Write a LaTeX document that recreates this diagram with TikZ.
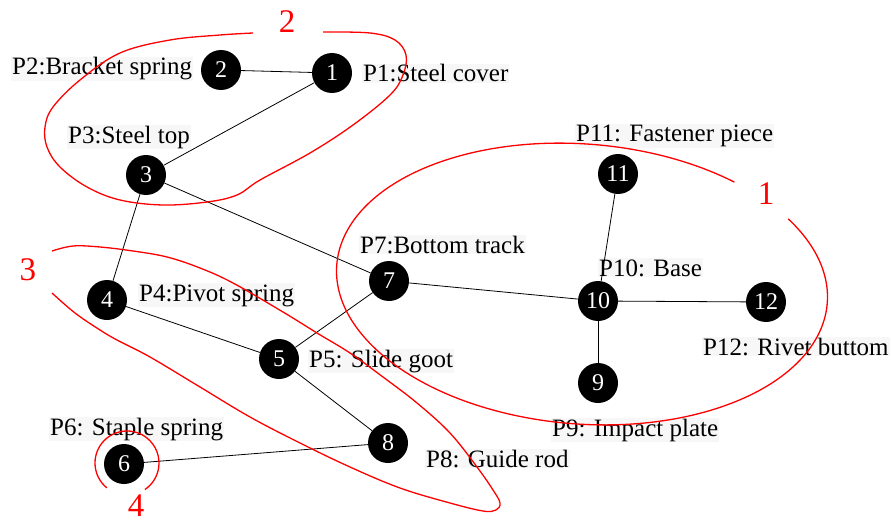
\documentclass[tikz,border=0pt]{standalone}
\usepackage{fontspec}
\setmainfont{Liberation Serif}
\begin{document}
\begin{tikzpicture}[x=1pt,y=-1pt,
  part/.style={circle, fill=black, minimum size=40pt, inner sep=0pt, text=white,
    font=\fontsize{24}{24}\selectfont},
  plabel/.style={anchor=base west, inner sep=1pt, fill=black!3,
    font=\fontsize{25}{25}\selectfont},
  link/.style={draw=black, line width=0.8pt},
  cluster/.style={draw=red, line width=1.3pt},
  groupno/.style={text=red, inner sep=0pt, font=\fontsize{33}{33}\selectfont}]
\useasboundingbox (0,0) rectangle (891,524);

% part labels
\node[plabel] (l1) at (362,82) {P1:Steel cover};
\node[plabel] (l2) at (11,75) {P2:Bracket spring};
\node[plabel] (l3) at (67,143) {P3:Steel top};
\node[plabel] (l4) at (138,301) {P4:Pivot spring};
\node[plabel] (l5) at (308,367) {P5: Slide goot};
\node[plabel] (l6) at (49,435) {P6: Staple spring};
\node[plabel] (l7) at (359,253) {P7:Bottom track};
\node[plabel] (l8) at (425,467) {P8: Guide rod};
\node[plabel] (l9) at (551,436) {P9: Impact plate};
\node[plabel] (l10) at (598,276) {P10: Base};
\node[plabel] (l11) at (575,142) {P11: Fastener piece};
\node[plabel] (l12) at (702,355) {P12: Rivet buttom};

% parts
\node[part] (n1) at (332,73) {1};
\node[part] (n2) at (221,70) {2};
\node[part] (n3) at (146,175) {3};
\node[part] (n4) at (107,300) {4};
\node[part] (n5) at (279,359) {5};
\node[part] (n6) at (124,464) {6};
\node[part] (n7) at (389,281) {7};
\node[part] (n8) at (388,443) {8};
\node[part] (n9) at (598,383) {9};
\node[part] (n10) at (598,301) {10};
\node[part] (n11) at (618,174) {11};
\node[part] (n12) at (766,302) {12};

% connections
\draw[link] (n2) -- (n1);
\draw[link] (n1) -- (n3);
\draw[link] (n3) -- (n4);
\draw[link] (n3) -- (n7);
\draw[link] (n4) -- (n5);
\draw[link] (n5) -- (n7);
\draw[link] (n5) -- (n8);
\draw[link] (n8) -- (n6);
\draw[link] (n7) -- (n10);
\draw[link] (n10) -- (n11);
\draw[link] (n10) -- (n12);
\draw[link] (n10) -- (n9);

% group 1: open ellipse round the base assembly
\draw[cluster, shift={(582,284)}, rotate=-4.5]
  (-35.4:246 and 140) arc[start angle=-35.4, end angle=305.8, x radius=246, y radius=140];
\node[groupno] (g1) at (766,194) {1};

% group 2: the top parts
\draw[cluster] plot[smooth, tension=0.6] coordinates {
  (323,32) (370,33) (395,40) (406,55) (403,75) (390,95) (353,125) (310,153)
  (260,180) (237,195) (207,202) (163,205) (120,200) (87,187) (60,167) (47,147)
  (45,127) (53,107) (80,80) (120,53) (170,40) (220,35) (253,33)};
\node[groupno] (g2) at (287,22) {2};

% group 3: the slide chain
\draw[cluster] plot[smooth, tension=0.6] coordinates {
  (52,251) (73,246) (100,247) (133,251) (167,257) (200,268) (233,283) (283,312)
  (317,333) (350,353) (383,377) (417,403) (450,433) (477,467) (493,490) (500,503)
  (496,510) (483,511) (450,503) (400,488) (350,467) (300,443) (250,417) (200,387)
  (150,357) (117,340) (100,330) (75,313) (52,293)};
\node[groupno] (g3) at (28,270) {3};

% group 4: the staple spring alone
\draw[cluster, shift={(127,463)}]
  (129:32) arc[start angle=129, end angle=416, radius=32];
\node[groupno] (g4) at (136,506) {4};
\end{tikzpicture}
\end{document}
